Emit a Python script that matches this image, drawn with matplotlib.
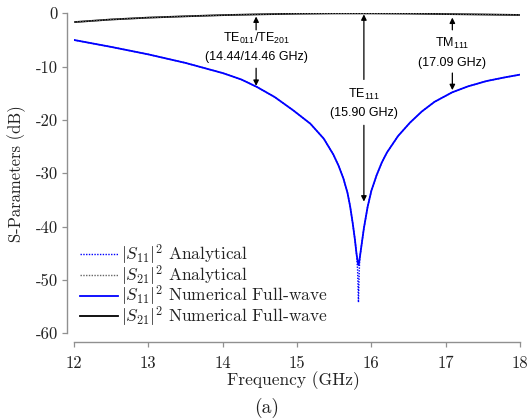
import matplotlib
matplotlib.use("Agg")
import matplotlib.pyplot as plt

plt.rcParams["mathtext.fontset"] = "cm"
plt.rcParams["mathtext.rm"] = "Liberation Sans"
plt.rcParams["mathtext.it"] = "Liberation Sans:italic"
plt.rcParams["mathtext.bf"] = "Liberation Sans:bold"
plt.rcParams["font.family"] = ["cmr10", "DejaVu Serif"]
plt.rcParams["axes.unicode_minus"] = False

# |S11|^2 (dB) versus frequency (GHz)
freq_s11 = [12.0, 12.5, 13.0, 13.5, 14.0, 14.25, 14.46, 14.7, 14.95, 15.18,
            15.36, 15.49, 15.56, 15.625, 15.68, 15.715, 15.75, 15.78, 15.80,
            15.815, 15.827, 15.838, 15.845, 15.87, 15.90, 15.95, 16.0,
            16.07, 16.14, 16.21, 16.36, 16.52, 16.68, 16.85, 17.09, 17.3,
            17.55, 17.8, 18.0]
s11_numerical = [-5.0, -6.3, -7.7, -9.3, -11.2, -12.4, -13.8, -15.7, -18.2,
                 -20.7, -23.5, -26.5, -28.6, -31.0, -33.7, -36.2, -39.4,
                 -42.5, -45.0, -46.4, -47.2, -46.5, -45.8, -43.3, -40.3,
                 -36.3, -33.3, -30.4, -28.0, -26.1, -23.0, -20.5, -18.4,
                 -16.6, -14.8, -13.7, -12.7, -12.0, -11.5]
s11_analytical = [-5.0, -6.3, -7.7, -9.3, -11.2, -12.4, -13.8, -15.7, -18.2,
                  -20.7, -23.5, -26.5, -28.6, -31.0, -33.7, -36.2, -39.4,
                  -42.5, -45.0, -48.0, -54.2, -48.2, -45.8, -43.3, -40.3,
                  -36.3, -33.3, -30.4, -28.0, -26.1, -23.0, -20.5, -18.4,
                  -16.6, -14.8, -13.7, -12.7, -12.0, -11.5]

# |S21|^2 (dB) versus frequency (GHz)
freq_s21 = [12.0, 12.5, 13.0, 13.5, 14.0, 14.5, 15.0, 15.5, 16.0, 16.5,
            17.0, 17.5, 18.0]
s21_numerical = [-1.65, -1.16, -0.81, -0.56, -0.34, -0.19, -0.07, -0.01,
                 -0.01, -0.045, -0.14, -0.22, -0.31]
s21_analytical = [-1.65, -1.16, -0.81, -0.56, -0.34, -0.19, -0.07, -0.01,
                  -0.01, -0.045, -0.14, -0.22, -0.31]

x_ticks = [12, 13, 14, 15, 16, 17, 18]
y_ticks = [0, -10, -20, -30, -40, -50, -60]
y_tick_labels = ["0", "-10", "-20", "-30", "-40", "-50", "-60"]

fig = plt.figure(figsize=(5.27, 4.20), dpi=100)
ax = fig.add_axes([0.1404, 0.2064, 0.8463, 0.7619])

ax.plot(freq_s11, s11_numerical, color="#0000ff", lw=1.3,
        label=r"$|S_{11}|^2$ Numerical Full-wave", zorder=2)
ax.plot(freq_s21, s21_numerical, color="black", lw=1.3,
        label=r"$|S_{21}|^2$ Numerical Full-wave", zorder=2)
ax.plot(freq_s11, s11_analytical, color="#0000ff", lw=1.0, ls=(0, (1, 1)),
        label=r"$|S_{11}|^2$ Analytical", zorder=1)
ax.plot(freq_s21, s21_analytical, color="#666666", lw=1.0, ls=(0, (1, 1)),
        label=r"$|S_{21}|^2$ Analytical", zorder=3)

ax.set_xlim(12, 18)
ax.set_ylim(-60, 0)
ax.set_xticks(x_ticks)
ax.set_xticklabels([str(t) for t in x_ticks])
ax.set_yticks(y_ticks)
ax.set_yticklabels(y_tick_labels)

for side in ("top", "right"):
    ax.spines[side].set_visible(False)
ax.spines["left"].set_position(("outward", 5))
ax.spines["bottom"].set_position(("outward", 6.5))
for side in ("left", "bottom"):
    ax.spines[side].set_color("#909090")
    ax.spines[side].set_linewidth(1.0)
ax.tick_params(axis="both", direction="out", length=3.5, width=0.9,
               color="#909090", labelsize=12, labelcolor="#222222")
ax.tick_params(axis="x", pad=6)
ax.tick_params(axis="y", pad=3)

ax.set_xlabel("Frequency (GHz)", fontsize=12.5, color="#222222")
ax.xaxis.set_label_coords(0.491, -0.118)
ax.set_ylabel("S-Parameters (dB)", fontsize=12, color="#222222")
ax.yaxis.set_label_coords(-0.108, 0.5)

handles, labels = ax.get_legend_handles_labels()
order = [2, 3, 0, 1]
leg = ax.legend([handles[i] for i in order], [labels[i] for i in order],
                loc="lower left", bbox_to_anchor=(0.0, -0.006), frameon=False,
                fontsize=12.5, handlelength=2.2, handletextpad=0.15,
                labelspacing=-0.2, borderaxespad=0.0, borderpad=0.35)
for t in leg.get_texts():
    t.set_color("#222222")

# Mode annotations
sans = ["Liberation Sans", "DejaVu Sans"]
arrow_kw = dict(arrowstyle="-|>", color="black", lw=0.9, mutation_scale=8,
                shrinkA=0, shrinkB=0)


def mode_label(x, y_up_from, y_up_to, y_dn_from, y_dn_to, y_l1, y_l2,
               line1, line2):
    ax.annotate("", xy=(x, y_up_to), xytext=(x, y_up_from),
                arrowprops=arrow_kw)
    ax.annotate("", xy=(x, y_dn_to), xytext=(x, y_dn_from),
                arrowprops=arrow_kw)
    ax.text(x, y_l1, line1, ha="center", va="center", fontsize=9,
            family=sans, math_fontfamily="custom")
    ax.text(x, y_l2, line2, ha="center", va="center", fontsize=9,
            family=sans)


mode_label(14.45, -3.1, -0.6, -10.3, -13.6, -4.8, -8.2,
           r"TE$_{011}$/TE$_{201}$", "(14.44/14.46 GHz)")
mode_label(15.90, -12.4, -0.2, -21.0, -35.3, -15.2, -18.7,
           r"TE$_{111}$", "(15.90 GHz)")
mode_label(17.09, -3.1, -0.8, -11.2, -14.4, -5.7, -9.3,
           r"TM$_{111}$", "(17.09 GHz)")

fig.text(0.5057, 0.0286, "(a)", fontsize=14, ha="center", va="center",
         color="#222222")

fig.savefig("out.png", dpi=100)
